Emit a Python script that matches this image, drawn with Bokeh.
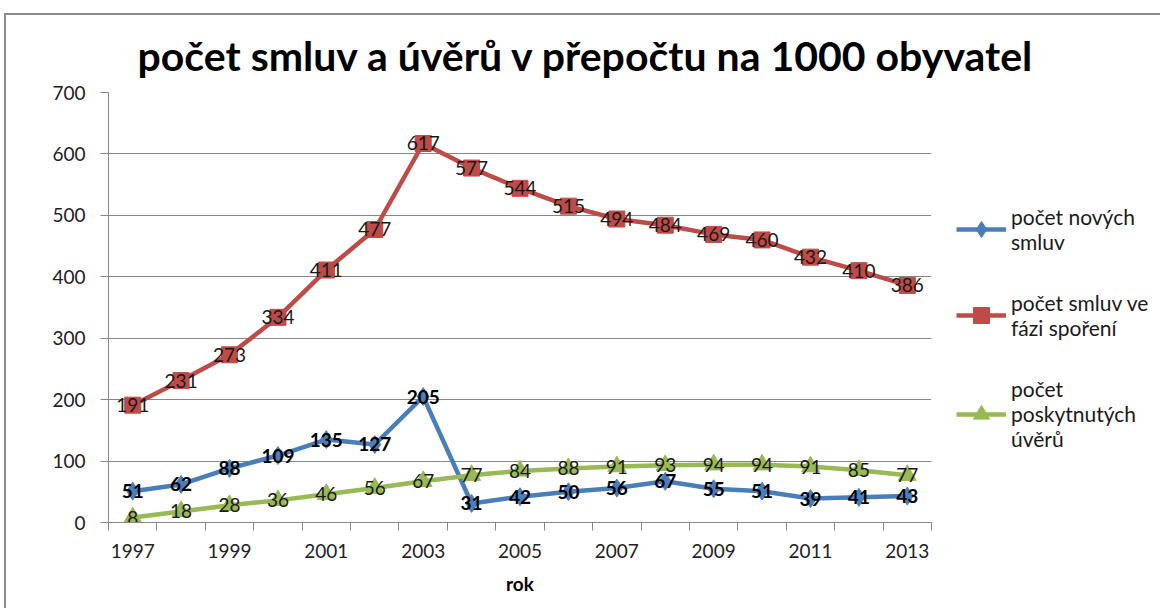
from bokeh.plotting import figure
from bokeh.models import (ColumnDataSource, FixedTicker, Legend, LegendItem, Range1d)
from bokeh.embed import file_html
from bokeh.resources import INLINE
from bokeh.core.properties import value

# ---- data ----
years = list(range(1997, 2014))
nove_smlouvy = [51, 62, 88, 109, 135, 127, 205, 31, 42, 50, 56, 67, 55, 51, 39, 41, 43]
smlouvy_sporeni = [191, 231, 273, 334, 411, 477, 617, 577, 544, 515, 494, 484, 469, 460, 432, 410, 386]
uvery = [8, 18, 28, 36, 46, 56, 67, 77, 84, 88, 91, 93, 94, 94, 91, 85, 77]
series_names = ["počet nových\nsmluv", "počet smluv ve\nfázi spoření", "počet\nposkytnutých\núvěrů"]
chart_title = "počet smluv a úvěrů v přepočtu na 1000 obyvatel"
x_title = "rok"
x_tick_years = [1997, 1999, 2001, 2003, 2005, 2007, 2009, 2011, 2013]
y_ticks = [0, 100, 200, 300, 400, 500, 600, 700]

FONT = "Lato"
BLUE = "#4A7EBB"
RED = "#BE4B48"
GREEN = "#98B954"
GRID = "#878787"

p = figure(frame_width=823, frame_height=430,
           x_range=Range1d(years[0] - 0.5, years[-1] + 0.5),
           y_range=Range1d(0, 700),
           output_backend="svg", toolbar_location=None,
           min_border_left=108, min_border_right=229,
           min_border_top=92, min_border_bottom=86)

p.background_fill_color = "white"
p.border_fill_alpha = 0
p.outline_line_color = None
p.styles = {
    "background": ("linear-gradient(#8a8a8a,#8a8a8a) 4px 13px / 100% 2px no-repeat, "
                   "linear-gradient(#8a8a8a,#8a8a8a) 4px 13px / 2px 100% no-repeat, white"),
}

# title
p.title.text = chart_title
p.title.align = "left"
p.title.offset = 29
p.title.text_font = FONT
p.title.text_font_size = "41px"
p.title.text_font_style = "bold"
p.title.text_color = "black"
p.title.standoff = 25

# x axis
xt = FixedTicker(ticks=x_tick_years,
                 minor_ticks=[y - 0.5 for y in years] + [years[-1] + 0.5])
p.xaxis.ticker = xt
p.xaxis.major_tick_out = 0
p.xaxis.major_tick_in = 0
p.xaxis.minor_tick_out = 8
p.xaxis.minor_tick_in = 0
p.xaxis.minor_tick_line_color = GRID
p.xaxis.axis_line_color = GRID
p.xaxis.major_label_text_font = FONT
p.xaxis.major_label_text_font_size = "19px"
p.xaxis.major_label_text_color = "#222222"
p.xaxis.major_label_standoff = 13
p.xaxis.axis_label = x_title
p.xaxis.axis_label_text_font = FONT
p.xaxis.axis_label_text_font_size = "19px"
p.xaxis.axis_label_text_font_style = "bold"
p.xaxis.axis_label_text_color = "black"
p.xaxis.axis_label_standoff = 11

# y axis
p.yaxis.ticker = FixedTicker(ticks=y_ticks)
p.yaxis.major_tick_out = 8
p.yaxis.major_tick_in = 0
p.yaxis.minor_tick_line_color = None
p.yaxis.major_tick_line_color = GRID
p.yaxis.axis_line_color = GRID
p.yaxis.major_label_text_font = FONT
p.yaxis.major_label_text_font_size = "19px"
p.yaxis.major_label_text_color = "#222222"
p.yaxis.major_label_standoff = 15

p.xgrid.grid_line_color = None
p.ygrid.ticker = FixedTicker(ticks=y_ticks)
p.ygrid.grid_line_color = GRID
p.ygrid.grid_line_width = 1

# series
src = ColumnDataSource(dict(
    x=years,
    a=nove_smlouvy, b=smlouvy_sporeni, c=uvery,
    ta=[str(v) for v in nove_smlouvy],
    tb=[str(v) for v in smlouvy_sporeni],
    tc=[str(v) for v in uvery],
))

la = p.line("x", "a", source=src, line_color=BLUE, line_width=4.5)
ma = p.scatter("x", "a", source=src, marker="diamond", size=18,
               fill_color=BLUE, line_color=BLUE)
lb = p.line("x", "b", source=src, line_color=RED, line_width=4.5)
mb = p.scatter("x", "b", source=src, marker="square", size=16,
               fill_color=RED, line_color=RED)
lc = p.line("x", "c", source=src, line_color=GREEN, line_width=4.5)
mc = p.scatter("x", "c", source=src, marker="triangle", size=18,
               fill_color=GREEN, line_color=GREEN)

# data labels
p.text("x", "b", text="tb", source=src, text_align="center", text_baseline="middle",
       text_font=value(FONT), text_font_size="19px", text_color="#1a1a1a")
p.text("x", "c", text="tc", source=src, text_align="center", text_baseline="middle",
       text_font=value(FONT), text_font_size="19px", text_color="#1a1a1a")
p.text("x", "a", text="ta", source=src, text_align="center", text_baseline="middle",
       text_font=value(FONT), text_font_size="19px", text_font_style="bold",
       text_color="black")

legend = Legend(items=[
    LegendItem(label=series_names[0], renderers=[la, ma]),
    LegendItem(label=series_names[1], renderers=[lb, mb]),
    LegendItem(label=series_names[2], renderers=[lc, mc]),
], location=(25, 71))
legend.border_line_color = None
legend.background_fill_alpha = 0
legend.padding = 0
legend.margin = 0
legend.spacing = 36
legend.glyph_width = 50
legend.glyph_height = 40
legend.label_standoff = 5
legend.label_text_font = FONT
legend.label_text_font_size = "21px"
legend.label_text_color = "#1a1a1a"
p.add_layout(legend, "right")

open("out.html", "w").write(file_html(p, INLINE))
